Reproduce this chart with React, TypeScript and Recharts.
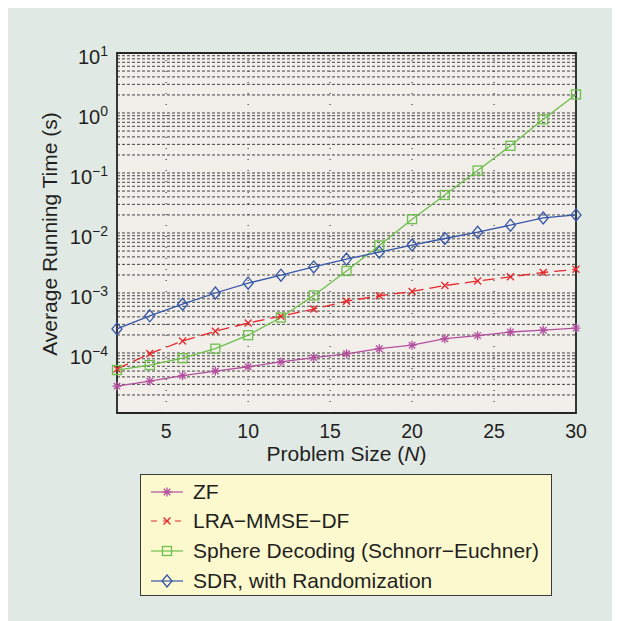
import { LineChart, Line, XAxis, YAxis, CartesianGrid, ReferenceLine, ReferenceArea, Legend } from "recharts";

const FONT = '"Liberation Sans", Arial, Helvetica, sans-serif';
const TEXT = "#231f20";

const problemSize = [2, 4, 6, 8, 10, 12, 14, 16, 18, 20, 22, 24, 26, 28, 30];
const zf = [2.8e-5, 3.4e-5, 4.2e-5, 5.0e-5, 5.9e-5, 7.1e-5, 8.4e-5, 9.7e-5, 1.18e-4, 1.35e-4, 1.73e-4, 1.95e-4, 2.24e-4, 2.4e-4, 2.6e-4];
const lra = [5.4e-5, 9.8e-5, 1.58e-4, 2.3e-4, 3.17e-4, 4.1e-4, 5.4e-4, 7.3e-4, 9.0e-4, 1.06e-3, 1.33e-3, 1.58e-3, 1.86e-3, 2.2e-3, 2.48e-3];
const sphere = [5.2e-5, 6.3e-5, 8.2e-5, 1.18e-4, 1.98e-4, 3.9e-4, 9.1e-4, 2.33e-3, 6.2e-3, 1.7e-2, 4.3e-2, 0.11, 0.284, 0.785, 2.04];
const sdr = [2.52e-4, 4.16e-4, 6.5e-4, 1.0e-3, 1.46e-3, 1.98e-3, 2.72e-3, 3.68e-3, 4.8e-3, 6.3e-3, 8.1e-3, 1.03e-2, 1.35e-2, 1.78e-2, 2.0e-2];

const xTicks = [5, 10, 15, 20, 25, 30];
const yTicks = [1e-4, 1e-3, 1e-2, 1e-1, 1, 10];
const decades = [-5, -4, -3, -2, -1, 0];
const mantissas = [1, 2, 3, 4, 5, 6, 7, 8, 9];

const data = problemSize.map((n, i) => ({ n, zf: zf[i], lra: lra[i], sphere: sphere[i], sdr: sdr[i] }));

// grid lines at every 1..9 x 10^k
const gridValues = decades.flatMap((d) => mantissas.map((m) => m * Math.pow(10, d))).concat([10]);

const series = [
  { key: "zf", name: "ZF", color: "#b44f9f", marker: "star", dash: undefined },
  { key: "lra", name: "LRA\u2212MMSE\u2212DF", color: "#e8262b", marker: "x", dash: "12 6" },
  { key: "sphere", name: "Sphere Decoding (Schnorr\u2212Euchner)", color: "#6cbf4a", marker: "square", dash: undefined },
  { key: "sdr", name: "SDR, with Randomization", color: "#3656a8", marker: "diamond", dash: undefined },
];

function Marker({ kind, cx, cy, color }: any) {
  if (cx == null || cy == null) return null;
  if (kind === "star") {
    const r = 4.5;
    const d = r * 0.72;
    return (
      <g stroke={color} strokeWidth={1.3}>
        <line x1={cx - r} x2={cx + r} y1={cy} y2={cy} />
        <line x1={cx} x2={cx} y1={cy - r} y2={cy + r} />
        <line x1={cx - d} x2={cx + d} y1={cy - d} y2={cy + d} />
        <line x1={cx - d} x2={cx + d} y1={cy + d} y2={cy - d} />
      </g>
    );
  }
  if (kind === "x") {
    const r = 3.5;
    return (
      <g stroke={color} strokeWidth={1.3}>
        <line x1={cx - r} x2={cx + r} y1={cy - r} y2={cy + r} />
        <line x1={cx - r} x2={cx + r} y1={cy + r} y2={cy - r} />
      </g>
    );
  }
  if (kind === "square") {
    return <rect x={cx - 4.5} y={cy - 4.5} width={9} height={9} fill="none" stroke={color} strokeWidth={1.3} />;
  }
  return (
    <path
      d={`M${cx},${cy - 6}L${cx + 5},${cy}L${cx},${cy + 6}L${cx - 5},${cy}Z`}
      fill="none"
      stroke={color}
      strokeWidth={1.3}
    />
  );
}

const YTick = ({ x, y, payload }: any) => {
  const e = Math.round(Math.log10(payload.value));
  return (
    <text x={x - 9} y={y + 11} textAnchor="end" fontSize={20} fontFamily={FONT} fill={TEXT}>
      10
      <tspan dy={-8.5} fontSize={14}>{e < 0 ? "\u2212" + -e : String(e)}</tspan>
    </text>
  );
};

const XTick = ({ x, y, payload }: any) => (
  <text x={x} y={y + 25} textAnchor="middle" fontSize={19.5} fontFamily={FONT} fill={TEXT}>
    {payload.value}
  </text>
);

const XLabel = ({ viewBox }: any) => (
  <text x={viewBox.x + viewBox.width / 2} y={viewBox.y + 48} textAnchor="middle" fontSize={21} fontFamily={FONT} fill={TEXT}>
    Problem Size (<tspan fontStyle="italic">N</tspan>)
  </text>
);

const YLabel = ({ viewBox }: any) => {
  const cx = viewBox.x;
  const cy = viewBox.y + viewBox.height / 2 + 1;
  return (
    <text x={cx} y={cy} transform={`rotate(-90, ${cx}, ${cy})`} textAnchor="middle" fontSize={21} fontFamily={FONT} fill={TEXT}>
      Average Running Time (s)
    </text>
  );
};

const LegendBox = () => (
  <div
    style={{
      width: 412,
      height: 122,
      boxSizing: "border-box",
      border: "1.5px solid #3a3a3a",
      background: "#fdf9cf",
      paddingTop: 2,
      fontFamily: FONT,
      fontSize: 21,
      color: TEXT,
    }}
  >
    {series.map((s) => (
      <div key={s.key} style={{ height: 29.6, display: "flex", alignItems: "center" }}>
        <svg width={52} height={28} style={{ flex: "none" }}>
          <line x1={10} x2={42} y1={14} y2={14} stroke={s.color} strokeWidth={1.2} strokeDasharray={s.dash ? "6 6" : undefined} />
          <Marker kind={s.marker} cx={26} cy={14} color={s.color} />
        </svg>
        <span>{s.name}</span>
      </div>
    ))}
  </div>
);

export default function App() {
  return (
    <div style={{ width: 604, height: 613, background: "#e1e9e5" }}>
      <LineChart width={604} height={613} data={data} margin={{ top: 45, right: 36, left: 49, bottom: 158 }}>
        <CartesianGrid horizontal={false} vertical={false} fill="#f2efeb" />
        {gridValues.map((v) => (
          <ReferenceLine key={"h" + v} y={v} stroke="#2e2e2e" strokeWidth={0.9} strokeDasharray="3 2" />
        ))}
        {xTicks.slice(0, -1).map((v) => (
          <ReferenceLine key={"v" + v} x={v} stroke="#333" strokeWidth={1.1} strokeDasharray="1 10" />
        ))}
        <XAxis
          dataKey="n"
          type="number"
          domain={[2, 30]}
          ticks={xTicks}
          axisLine={false}
          tickLine={false}
          tickSize={0}
          tickMargin={0}
          height={50}
          tick={<XTick />}
          label={<XLabel />}
        />
        <YAxis
          type="number"
          scale="log"
          domain={[1e-5, 10]}
          allowDataOverflow
          ticks={yTicks}
          axisLine={false}
          tickLine={false}
          tickSize={0}
          tickMargin={0}
          width={60}
          tick={<YTick />}
          label={<YLabel />}
        />
        <ReferenceArea x1={2} x2={30} y1={1e-5} y2={10} fill="none" stroke="#222" strokeWidth={1.8} />
        {series.map((s) => (
          <Line
            key={s.key}
            dataKey={s.key}
            name={s.name}
            type="linear"
            stroke={s.color}
            strokeWidth={1.3}
            strokeDasharray={s.dash}
            isAnimationActive={false}
            dot={(p: any) => <Marker key={s.key + p.index} kind={s.marker} cx={p.cx} cy={p.cy} color={s.color} />}
            activeDot={false}
          />
        ))}
        <Legend
          layout="vertical"
          align="center"
          verticalAlign="middle"
          content={<LegendBox />}
          wrapperStyle={{ left: 132, top: 466, width: 412, height: 122 }}
        />
      </LineChart>
    </div>
  );
}
